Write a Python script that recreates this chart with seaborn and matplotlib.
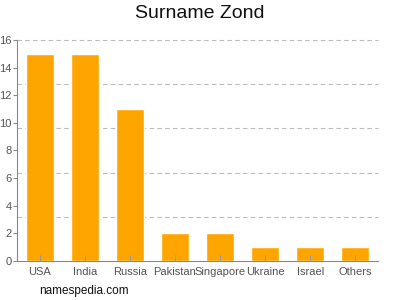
import matplotlib
matplotlib.use("Agg")
import matplotlib.pyplot as plt
import seaborn as sns
import pandas as pd

countries = ["USA", "India", "Russia", "Pakistan", "Singapore", "Ukraine", "Israel", "Others"]
counts = [15, 15, 11, 2, 2, 1, 1, 1]
y_ticks = [0, 2, 4, 6, 8, 10, 12, 14, 16]
grid_levels = [3.2, 6.4, 9.6, 12.8, 16]

sns.set_style("white")
plt.rcParams['font.family'] = ['Liberation Sans', 'DejaVu Sans']

df = pd.DataFrame({"country": countries, "count": counts})
fig = plt.figure(figsize=(4, 3), dpi=100)
ax = fig.add_axes([0.0425, 0.13, 0.9025, 0.737])
ax.hlines(grid_levels, 0, 1, transform=ax.get_yaxis_transform(), colors="#bbbbbb",
          linestyles=(0, (4, 3)), linewidth=0.8, clip_on=False, zorder=0)
sns.barplot(data=df, x="country", y="count", color="#FFA500", saturation=1, width=0.62, ax=ax, zorder=2)
ax.set_ylim(0, 16)
ax.set_xlim(-0.5, len(countries) - 0.5)
ax.set_yticks(y_ticks)
ax.set_axisbelow(False)
ax.set_xlabel("")
ax.set_ylabel("")
for s in ["top", "right"]:
    ax.spines[s].set_visible(False)
for s in ["left", "bottom"]:
    ax.spines[s].set_color("#888888")
    ax.spines[s].set_linewidth(0.8)
ax.tick_params(axis="y", which="major", left=True, length=3, width=0.8, color="#888888",
               labelsize=8, labelcolor="#555555", pad=1)
ax.tick_params(axis="x", bottom=True, direction="in", length=4, width=0.8, color="#999999",
               labelsize=8, labelcolor="#555555", pad=4)
fig.text(0.5, 0.955, "Surname Zond", ha="center", va="center", fontsize=14, color="#111111")
fig.text(0.098, 0.03, "namespedia.com", ha="left", va="center", fontsize=8.5, color="#111111")
fig.savefig("out.png", dpi=100)
